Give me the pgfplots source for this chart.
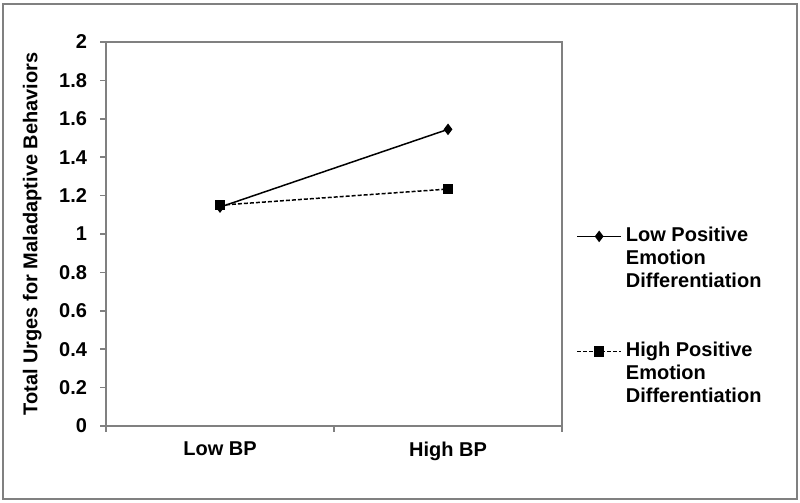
\documentclass[border=0pt]{standalone}
\usepackage{fontspec}
\setmainfont{Liberation Sans}
\usepackage{pgfplots}
\pgfplotsset{compat=1.18}
\definecolor{axgray}{RGB}{128,128,128}
\newcommand{\cf}{\bfseries\fontsize{10bp}{11.5bp}\selectfont}
\begin{document}
\begin{tikzpicture}[x=0.5bp,y=0.5bp]
\path (0,0) rectangle (800,503);
\draw[axgray, line width=1bp] (3,4) rectangle (797,499);
\begin{axis}[
  at={(53bp,38.5bp)}, anchor=south west,
  scale only axis, width=228bp, height=192bp,
  xmin=0, xmax=2, ymin=0, ymax=2,
  axis line style={axgray, line width=0.75bp},
  tick align=outside,
  xtick pos=bottom, ytick pos=left,
  xtick={0.5,1.5}, xticklabels={Low BP, High BP},
  major x tick style={draw=none},
  minor xtick={0,1,2}, minor tick length=3bp,
  minor x tick style={axgray, line width=0.75bp},
  ytick={0,0.2,0.4,0.6,0.8,1,1.2,1.4,1.6,1.8,2},
  yticklabels={0,0.2,0.4,0.6,0.8,1,1.2,1.4,1.6,1.8,2},
  major y tick style={axgray, line width=0.75bp},
  major tick length=3bp,
  ticklabel style={font=\cf},
  xticklabel style={yshift=-1.5bp},
  yticklabel style={xshift=-3bp},
  ylabel={Total Urges for Maladaptive Behaviors},
  ylabel style={font=\cf, at={(axis description cs:-0.162,0.5)}, anchor=center, rotate=0},
  clip=false,
  legend style={at={(axis description cs:1.0307,0.5247)}, anchor=north west,
    draw=none, fill=none, font=\cf, inner sep=0pt, column sep=2bp, row sep=0pt,
    nodes={text height=8.5bp, text depth=3bp, inner sep=0pt}},
  legend cell align=left,
  legend image code/.code={\draw[mark repeat=2, mark phase=2, #1] plot coordinates {(0bp,0bp) (11bp,0bp) (22bp,0bp)};},
]
\addplot[black, line width=0.75bp, mark=diamond*, mark size=2.3bp, mark options={solid}] coordinates {(0.5,1.14) (1.5,1.545)};
\addlegendentry{Low Positive}
\addlegendimage{empty legend}\addlegendentry{Emotion}
\addlegendimage{empty legend}\addlegendentry{Differentiation}
\addlegendimage{empty legend}\addlegendentry{\strut}
\addlegendimage{empty legend}\addlegendentry{\strut}
\addplot[black, line width=0.75bp, dash pattern=on 2bp off 1bp, mark=square*, mark size=2.25bp, mark options={solid}] coordinates {(0.5,1.15) (1.5,1.234)};
\addlegendentry{High Positive}
\addlegendimage{empty legend}\addlegendentry{Emotion}
\addlegendimage{empty legend}\addlegendentry{Differentiation}
\end{axis}
\end{tikzpicture}
\end{document}
